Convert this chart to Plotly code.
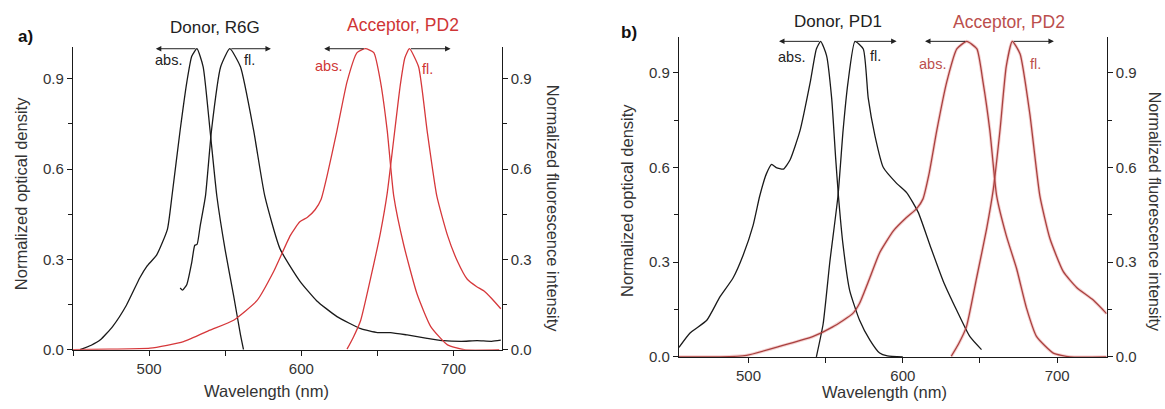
import plotly.graph_objects as go

W, H = 1165, 409

# ---------------- data ----------------
# Panel a
a_don_abs_x = [454.6, 462, 468, 476, 485, 494, 498.5, 505, 512, 515, 520.4, 524.8, 528, 531.4, 535.5, 540, 544.5, 550, 555.5, 560, 562]
a_don_abs_y = [0.0, 0.015, 0.033, 0.077, 0.147, 0.24, 0.277, 0.315, 0.40, 0.51, 0.73, 0.89, 0.975, 1.0, 0.94, 0.73, 0.51, 0.33, 0.18, 0.05, 0.0]

a_don_fl_x = [520.4, 522, 524.8, 528, 530, 531.5, 533.5, 537, 541, 547, 553, 560, 568.6, 576, 586, 599, 610, 623.4, 639, 650, 658.6, 669.5, 682.6, 693.6, 705, 715.5, 725, 731]
a_don_fl_y = [0.205, 0.198, 0.217, 0.29, 0.347, 0.35, 0.41, 0.51, 0.73, 0.94, 1.0, 0.94, 0.73, 0.51, 0.335, 0.228, 0.163, 0.11, 0.07, 0.057, 0.057, 0.049, 0.038, 0.03, 0.028, 0.03, 0.028, 0.032]

a_acc_abs_x = [450, 474, 500.6, 522.6, 540, 555.5, 570.8, 581.8, 592.8, 599, 604, 609, 613, 617, 623.4, 630, 636.6, 642, 647.6, 652, 656.4, 660.7, 667.3, 676, 685, 696, 707, 730]
a_acc_abs_y = [0.0, 0.002, 0.005, 0.027, 0.065, 0.098, 0.163, 0.26, 0.38, 0.425, 0.44, 0.465, 0.50, 0.58, 0.728, 0.89, 0.987, 1.0, 0.987, 0.89, 0.728, 0.51, 0.347, 0.185, 0.077, 0.016, 0.0, 0.0]

a_acc_fl_x = [630, 634, 639, 645.6, 652, 656.4, 660.7, 665, 668, 671, 677, 682.6, 689, 696, 702.6, 709, 715, 720, 725, 731]
a_acc_fl_y = [0.002, 0.04, 0.098, 0.24, 0.39, 0.52, 0.70, 0.88, 0.97, 1.0, 0.94, 0.728, 0.51, 0.38, 0.293, 0.234, 0.21, 0.195, 0.17, 0.136]

# Panel b
b_don_abs_x = [455, 462, 473, 481.5, 490, 496.6, 503, 507.3, 511.6, 515, 518, 522.6, 527, 533.4, 540, 544, 546.8, 550.6, 553.9, 556.5, 558.3, 561.3, 565.6, 572, 578.6, 585, 590, 600]
b_don_abs_y = [0.03, 0.075, 0.116, 0.19, 0.25, 0.323, 0.417, 0.51, 0.58, 0.61, 0.60, 0.595, 0.625, 0.717, 0.87, 0.976, 1.0, 0.955, 0.82, 0.63, 0.51, 0.354, 0.21, 0.116, 0.054, 0.012, 0.003, 0.0]

b_don_fl_x = [544, 548.4, 552.7, 558, 561.3, 564.5, 569, 574.4, 577.6, 582, 587.4, 596, 602.6, 610, 617.6, 626.2, 635, 643.5, 651]
b_don_fl_y = [0.0, 0.105, 0.30, 0.51, 0.717, 0.87, 1.0, 0.976, 0.82, 0.70, 0.60, 0.55, 0.52, 0.458, 0.354, 0.24, 0.147, 0.064, 0.023]

b_acc_abs_x = [455, 481.5, 498.8, 520, 541.6, 554.6, 567.5, 572, 578.6, 585, 594, 602, 609, 613, 617, 622, 628.4, 635, 641.4, 648, 652, 656.4, 660.8, 667, 673.7, 680, 686.7, 697.5, 708.3, 732]
b_acc_abs_y = [0.0, 0.0, 0.005, 0.033, 0.064, 0.095, 0.137, 0.17, 0.25, 0.33, 0.40, 0.44, 0.47, 0.50, 0.58, 0.717, 0.87, 0.976, 1.0, 0.976, 0.87, 0.717, 0.51, 0.385, 0.28, 0.157, 0.064, 0.012, 0.0, 0.0]

b_acc_fl_x = [631.4, 636, 641.2, 647.8, 654.3, 658.6, 663, 667, 670.9, 676, 682.3, 688.8, 695.3, 704, 712.6, 723.4, 732]
b_acc_fl_y = [0.002, 0.04, 0.095, 0.25, 0.406, 0.53, 0.72, 0.92, 1.0, 0.96, 0.77, 0.51, 0.375, 0.27, 0.22, 0.18, 0.137]

tick_vals = [0.0, 0.3, 0.6, 0.9]
tick_text = ["0.0", "0.3", "0.6", "0.9"]
x_tick_vals = [500, 600, 700]

# ---------------- styling ----------------
FONT = "Liberation Sans, Arial, sans-serif"
BLACK = "#1a1a1a"
RED_A = "#d6383b"
RED_B = "#a9413f"
TXT_RED_A = "#cf3636"
TXT_RED_B = "#bb4f4d"
GREY_TXT = "#333333"
LW = 1.3
ARROW_LEN = 27

def px(xp):
    return xp / W

def py(yp):
    return 1 - yp / H

fig = go.Figure()

def add(xs, ys, color, xa, ya, width=LW):
    fig.add_trace(go.Scatter(x=xs, y=ys, mode="lines", xaxis=xa, yaxis=ya,
                             line=dict(color=color, width=width, shape="spline", smoothing=0.5),
                             hoverinfo="skip", showlegend=False))

# panel a
add(a_don_abs_x, a_don_abs_y, BLACK, "x", "y")
add(a_don_fl_x, a_don_fl_y, BLACK, "x", "y")
add(a_acc_abs_x, a_acc_abs_y, RED_A, "x", "y")
add(a_acc_fl_x, a_acc_fl_y, RED_A, "x", "y")
# panel b (slight halo like the reference)
for xs, ys in [(b_acc_abs_x, b_acc_abs_y), (b_acc_fl_x, b_acc_fl_y)]:
    add(xs, ys, "rgba(230,150,150,0.45)", "x2", "y3", width=3.2)
add(b_don_abs_x, b_don_abs_y, BLACK, "x2", "y3")
add(b_don_fl_x, b_don_fl_y, BLACK, "x2", "y3")
add(b_acc_abs_x, b_acc_abs_y, RED_B, "x2", "y3")
add(b_acc_fl_x, b_acc_fl_y, RED_B, "x2", "y3")
# invisible traces so right axes render
fig.add_trace(go.Scatter(x=[None], y=[None], xaxis="x", yaxis="y2", showlegend=False))
fig.add_trace(go.Scatter(x=[None], y=[None], xaxis="x2", yaxis="y4", showlegend=False))

tickfont = dict(family=FONT, size=15, color=GREY_TXT)
common_y = dict(tickmode="array", tickvals=tick_vals, ticktext=tick_text, ticks="outside",
                ticklen=5, tickwidth=1, tickcolor=BLACK, showline=True, linecolor=BLACK,
                linewidth=1.2, showgrid=False, zeroline=False, tickfont=tickfont,
                minor=dict(dtick=0.15, tick0=0, ticks="outside", ticklen=4, tickcolor=BLACK, showgrid=False))
common_x = dict(tickmode="array", tickvals=x_tick_vals, ticks="outside", ticklen=5, tickwidth=1,
                tickcolor=BLACK, showline=True, linecolor=BLACK, linewidth=1.2, showgrid=False,
                zeroline=False, tickfont=tickfont,
                minor=dict(dtick=50, tick0=0, ticks="outside", ticklen=5, tickcolor=BLACK, showgrid=False))

ya_dom = [py(356.7), py(48)]
yb_dom = [py(364), py(38)]

fig.update_layout(
    width=W, height=H, margin=dict(l=0, r=0, t=0, b=0),
    paper_bgcolor="white", plot_bgcolor="white",
    font=dict(family=FONT, size=15, color=GREY_TXT),
    xaxis=dict(domain=[px(73), px(501.7)], range=[450, 731.6], anchor="y", **common_x),
    yaxis=dict(domain=ya_dom, range=[0, 1.0055], anchor="x", side="left", **common_y),
    yaxis2=dict(range=[0, 1.0055], overlaying="y", anchor="x", side="right", **common_y),
    xaxis2=dict(domain=[px(679), px(1106.7)], range=[455, 732.1], anchor="y3", **common_x),
    yaxis3=dict(domain=yb_dom, range=[0, 1.013], anchor="x2", side="left", **common_y),
    yaxis4=dict(range=[0, 1.013], overlaying="y3", anchor="x2", side="right", **common_y),
)

ann = []
def txt(xp, yp, s, size=15, color=GREY_TXT, angle=0, bold=False):
    ann.append(dict(x=px(xp), y=py(yp), xref="paper", yref="paper", text=("<b>%s</b>" % s) if bold else s,
                    showarrow=False, textangle=angle, xanchor="center", yanchor="middle",
                    font=dict(family=FONT, size=size, color=color)))

# panel labels and titles
txt(25, 37, "a)", 17, "#111111", bold=True)
txt(629, 33, "b)", 17, "#111111", bold=True)
txt(215, 28, "Donor, R6G", 17, "#222222")
txt(403, 26, "Acceptor, PD2", 17.5, TXT_RED_A)
txt(838, 22, "Donor, PD1", 17, "#222222")
txt(1009, 22, "Acceptor, PD2", 17.5, TXT_RED_B)
# axis titles
txt(21, 198, "Normalized optical density", 16.5, GREY_TXT, angle=-90)
txt(553, 212, "Normalized fluorescence intensity", 16.5, GREY_TXT, angle=90)
txt(266, 399, "Wavelength (nm)", 16.5, GREY_TXT)
txt(627, 205, "Normalized optical density", 16.5, GREY_TXT, angle=-90)
txt(1154, 215, "Normalized fluorescence intensity", 16, GREY_TXT, angle=90)
txt(884, 400, "Wavelength (nm)", 16.5, GREY_TXT)
# abs./fl. labels
txt(168, 61, "abs.", 14.5, "#222222")
txt(249, 61, "fl.", 14.5, "#222222")
txt(328, 67, "abs.", 14.5, TXT_RED_A)
txt(427, 70, "fl.", 14.5, TXT_RED_A)
txt(792, 58, "abs.", 14.5, "#222222")
txt(875, 57, "fl.", 14.5, "#222222")
txt(932, 65, "abs.", 14.5, TXT_RED_B)
txt(1035, 65, "fl.", 14.5, TXT_RED_B)

def peak(xs, ys):
    i = ys.index(max(ys))
    return xs[i], ys[i]

def arrow(xs, ys, direction, xr, yr):
    x0, y0 = peak(xs, ys)
    ann.append(dict(x=x0 + direction * ARROW_LEN, y=y0, ax=x0, ay=y0, xref=xr, yref=yr,
                    axref=xr, ayref=yr, showarrow=True, arrowhead=2, arrowsize=1.1,
                    arrowwidth=1, arrowcolor="#222222", text=""))

arrow(a_don_abs_x, a_don_abs_y, -1, "x", "y")
arrow(a_don_fl_x, a_don_fl_y, 1, "x", "y")
arrow(a_acc_abs_x, a_acc_abs_y, -1, "x", "y")
arrow(a_acc_fl_x, a_acc_fl_y, 1, "x", "y")
arrow(b_don_abs_x, b_don_abs_y, -1, "x2", "y3")
arrow(b_don_fl_x, b_don_fl_y, 1, "x2", "y3")
arrow(b_acc_abs_x, b_acc_abs_y, -1, "x2", "y3")
arrow(b_acc_fl_x, b_acc_fl_y, 1, "x2", "y3")

fig.update_layout(annotations=ann)
# remove the default page margin so the figure sits at the window's top-left corner
fig.write_html("out.html", config={"displayModeBar": False},
               post_script="document.body.style.margin='0';")
